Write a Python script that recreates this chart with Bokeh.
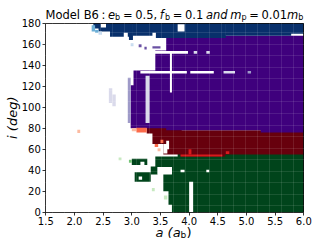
import math
from bokeh.plotting import figure
from bokeh.models import LinearAxis, FixedTicker, Range1d, Grid
from bokeh.core.properties import value
from bokeh.embed import file_html
from bokeh.resources import INLINE

# ---------------- data ----------------
A_RANGE = (1.5, 6.0)          # semi-major axis a (a_b)
I_RANGE = (0, 180)            # inclination i (deg)
X_TICKS = [1.5, 2.0, 2.5, 3.0, 3.5, 4.0, 4.5, 5.0, 5.5, 6.0]
Y_TICKS = [0, 20, 40, 60, 80, 100, 120, 140, 160, 180]

# stable regions (a0, a1, i0, i1), by final orbit class
GREEN = [(3.80, 6.00, 0, 56), (3.41, 3.82, 43, 53), (3.70, 3.82, 0, 44),
         (3.33, 3.45, 36, 43.5), (3.55, 3.82, 20, 36.5), (3.64, 3.82, 7, 21),
         (3.00, 3.27, 45, 51), (3.05, 3.33, 29, 38)]
RED = [(3.85, 6.00, 55, 78), (3.85, 4.63, 53, 55.5), (3.26, 3.87, 75, 80.5),
       (3.36, 3.87, 65, 75.5), (3.55, 3.87, 55, 65.5)]
PURPLE = [(3.60, 6.00, 78, 168), (5.25, 6.00, 76, 78.5), (3.41, 3.62, 133, 154),
          (3.03, 3.62, 120, 135), (2.98, 3.62, 80, 121)]
BLUE = [(2.33, 2.62, 175, 180), (2.42, 2.64, 172, 176), (2.62, 2.96, 167, 180),
        (2.95, 3.02, 164, 180), (3.01, 3.36, 168, 180), (3.35, 3.43, 171, 180),
        (3.42, 4.64, 166, 180), (4.63, 5.78, 168, 180), (5.77, 6.00, 170, 180)]
# unstable gaps inside the stable regions
HOLES = [(2.46, 2.55, 176, 180), (2.86, 2.93, 166, 171), (3.80, 3.92, 172, 179),
         (3.665, 3.70, 114, 152), (3.36, 3.98, 151, 153.5), (3.15, 3.96, 132, 134.5),
         (4.02, 4.43, 132, 134.5), (3.55, 3.62, 56, 65), (3.60, 3.65, 60, 68),
         (4.00, 4.07, 0, 29), (3.85, 3.92, 38, 40.5), (4.30, 4.35, 38, 40.5),
         (3.15, 3.22, 45, 48), (3.12, 3.18, 31, 34), (3.45, 3.70, 36, 43)]
# partially stable cells (a0, a1, i0, i1, class, level 1..3 light->dark)
FRINGE = [(2.30, 2.36, 172, 178, "b", 2), (2.36, 2.42, 171, 173.5, "b", 2),
          (2.42, 2.48, 169, 172, "b", 1), (2.98, 3.03, 158, 161, "b", 1),
          (3.12, 3.17, 157, 160, "p", 3), (3.22, 3.26, 155, 157.5, "p", 3),
          (3.36, 3.50, 156, 158, "p", 3), (3.24, 3.31, 85, 130, "p", 1),
          (2.93, 2.98, 85, 128, "p", 2), (2.60, 2.66, 104, 118, "p", 1),
          (2.66, 2.72, 101, 112, "p", 1), (4.60, 4.80, 132, 134.5, "p", 1),
          (5.02, 5.08, 132, 134.5, "p", 2), (4.08, 4.14, 151, 153.5, "p", 1),
          (4.30, 4.36, 151, 153.5, "p", 1),
          (3.85, 4.58, 53, 55, "r", 3), (3.99, 4.04, 55, 60, "r", 3),
          (4.64, 4.70, 55.5, 58, "r", 3), (3.00, 3.08, 77, 80, "r", 1),
          (3.08, 3.26, 76, 80.5, "r", 2), (3.40, 3.46, 62, 65, "r", 2),
          (3.45, 3.50, 58, 61, "r", 1), (3.50, 3.55, 66, 69, "r", 2),
          (2.05, 2.10, 75.5, 78.5, "r", 1),
          (2.77, 2.82, 49.5, 52, "g", 1), (3.56, 3.62, 12, 16, "g", 1),
          (3.35, 3.40, 20, 23, "g", 1), (2.95, 3.00, 47, 50, "g", 2)]

# title pieces (text, kind) and axis label pieces
TITLE = [("Model B6", "n"), (":", "n"), ("e", "i"), ("b", "s"), ("=", "n"),
         ("0.5,", "n"), ("f", "i"), ("b", "s"), ("=", "n"), ("0.1", "n"),
         ("and", "i"), ("m", "i"), ("p", "s"), ("=", "n"), ("0.01", "n"),
         ("m", "i"), ("b", "s")]
XLABEL = [("a (a", "i"), ("b", "s"), (")", "n")]
YLABEL = "i (deg)"

# ---------------- style / layout ----------------
DARK = {"b": "#08306b", "p": "#3f007d", "r": "#67000d", "g": "#00441b"}
SHADES = {"b": ["#c6dbef", "#6baed6", "#2171b5"],
          "p": ["#dadaeb", "#9e9ac8", "#6a51a3"],
          "r": ["#fcbba1", "#fb6a4a", "#d7191c"],
          "g": ["#c7e9c0", "#74c476", "#238b45"]}
FONT = "DejaVu Sans"
W, H = 315, 240
# plot box in canvas pixels (left, right, top, bottom)
BOX_L, BOX_R, BOX_T, BOX_B = 45.3, 303.3, 22.7, 211.7
SX = (BOX_R - BOX_L) / (A_RANGE[1] - A_RANGE[0])
SY = (BOX_B - BOX_T) / (I_RANGE[1] - I_RANGE[0])
x_range = Range1d(A_RANGE[0] - BOX_L / SX, A_RANGE[0] + (W - BOX_L) / SX)
y_range = Range1d(I_RANGE[0] - (H - BOX_B) / SY, I_RANGE[0] + BOX_B / SY)


def ax_(px):   # canvas x pixel -> a
    return A_RANGE[0] + (px - BOX_L) / SX


def iy_(py):   # canvas y pixel (from top) -> i
    return I_RANGE[0] + (BOX_B - py) / SY


p = figure(width=W, height=H, x_range=x_range, y_range=y_range,
           output_backend="svg", toolbar_location=None, title=None,
           min_border=0, min_border_left=0, min_border_right=0,
           min_border_top=0, min_border_bottom=0)
p.background_fill_color = "white"
p.border_fill_color = "white"
p.outline_line_color = None
p.grid.visible = False
xax = p.below[0]
yax = p.left[0]


def draw(rects, color):
    p.quad(left=[r[0] for r in rects], right=[r[1] for r in rects],
           bottom=[r[2] for r in rects], top=[r[3] for r in rects],
           fill_color=color, line_color=None)


draw(GREEN, DARK["g"])
draw(RED, DARK["r"])
draw(PURPLE, DARK["p"])
draw(BLUE, DARK["b"])
draw(HOLES, "white")
for r in FRINGE:
    draw([r[:4]], SHADES[r[4]][r[5] - 1])

# faint cell-edge lines of the rendered mesh (white over white is invisible)
for dim, ax_obj, step, lo, hi, bnd in ((0, xax, 0.21, 1.62, 6.0, I_RANGE),
                                       (1, yax, 11.0, 6.0, 180, A_RANGE)):
    ticks, t = [], lo
    while t < hi:
        ticks.append(round(t, 3))
        t += step
    g = Grid(dimension=dim, ticker=FixedTicker(ticks=ticks), bounds=bnd,
             grid_line_color="white", grid_line_alpha=0.10, grid_line_width=1,
             level="annotation")
    p.add_layout(g)

# axes placed on the plot box
xax.fixed_location = I_RANGE[0]
xax.bounds = A_RANGE
yax.fixed_location = A_RANGE[0]
yax.bounds = I_RANGE
xax.ticker = FixedTicker(ticks=X_TICKS)
yax.ticker = FixedTicker(ticks=Y_TICKS)
xax.major_label_overrides = {t: f"{t:.1f}" for t in X_TICKS}
yax.major_label_overrides = {t: f"{t:d}" for t in Y_TICKS}
top = LinearAxis(fixed_location=I_RANGE[1], bounds=A_RANGE,
                 ticker=FixedTicker(ticks=[]), major_label_text_font_size="0px")
right = LinearAxis(fixed_location=A_RANGE[1], bounds=I_RANGE,
                   ticker=FixedTicker(ticks=[]), major_label_text_font_size="0px")
p.add_layout(top, "above")
p.add_layout(right, "right")
for ax in (xax, yax, top, right):
    ax.major_tick_out = 3
    ax.major_tick_in = 0
    ax.minor_tick_line_color = None
    ax.axis_line_width = 0.8
    ax.axis_line_color = "black"
    ax.major_tick_line_width = 0.8
    ax.major_label_text_font = FONT
    ax.major_label_text_color = "black"
    ax.major_label_standoff = 2
xax.major_label_text_font_size = "10px"
yax.major_label_text_font_size = "10px"


def put(pieces, xs, base, size, sub_drop):
    for (s, kind), px in zip(pieces, xs):
        fs = size * 0.7 if kind == "s" else size
        py = base + (sub_drop if kind == "s" else 0)
        p.text(x=[ax_(px)], y=[iy_(py)], text=[s], text_font=value(FONT),
               text_font_size=value(f"{fs:.2f}px"),
               text_font_style=value("italic" if kind == "i" else "normal"),
               text_align=value("left"), text_baseline=value("alphabetic"),
               text_color="black")


# title (canvas px positions of each piece)
put(TITLE, [45.0, 101.0, 107.6, 114.6, 122.4, 134.7, 159.2, 164.4, 172.2,
            184.5, 205.4, 229.7, 240.9, 248.7, 261.0, 286.6, 297.8], 14.0, 11.5, 2.6)
# x label (overlaps tick labels, as in the reference)
put(XLABEL, [155.0, 180.1, 185.9], 232.0, 13, 2.5)
# y label
p.text(x=[ax_(12.0)], y=[iy_(117.2)], text=[YLABEL], text_font=value(FONT),
       text_font_size=value("13px"), text_font_style=value("italic"),
       angle=math.pi / 2, text_align=value("center"),
       text_baseline=value("middle"), text_color="black")

open("out.html", "w").write(file_html(p, INLINE))
